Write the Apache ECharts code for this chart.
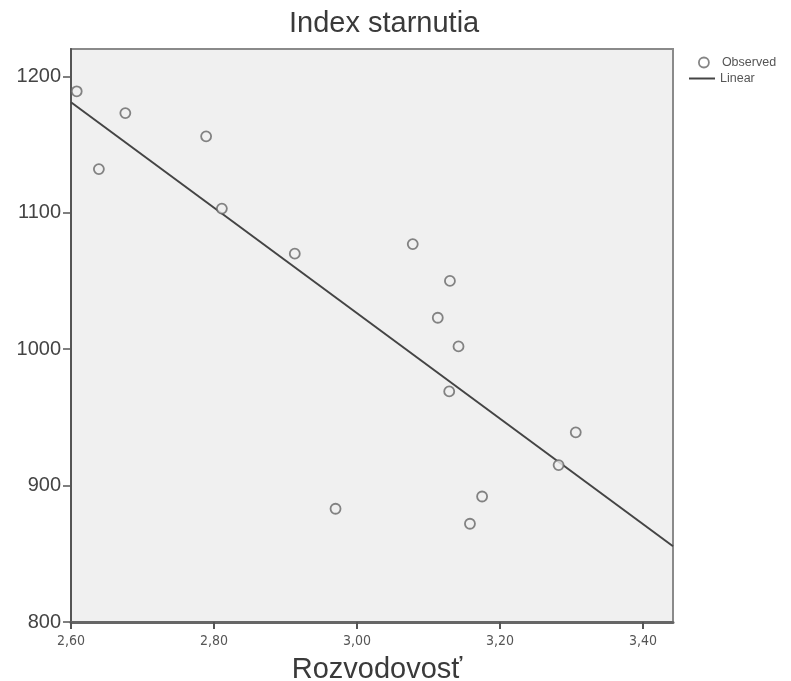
<!DOCTYPE html>
<html>
<head>
<meta charset="UTF-8"/>
<script src="https://cdn.jsdelivr.net/npm/echarts@6/dist/echarts.min.js"></script>
<style>
  html, body { margin: 0; padding: 0; background: #ffffff; }
  #c { width: 791px; height: 681px; }
</style>
</head>
<body>
<div id="c"></div>
<script>
// observed points
const rozvodovost = [2.608, 2.639, 2.676, 2.789, 2.811, 2.913, 2.970, 3.078,
                     3.130, 3.113, 3.142, 3.129, 3.306, 3.282, 3.175, 3.158];
const indexStarnutia = [1189, 1132, 1173, 1156, 1103, 1070, 883, 1077,
                        1050, 1023, 1002, 969, 939, 915, 892, 872];

// linear fit, ends of the drawn line
const fitX = [2.60, 3.442];
const fitY = [1181, 855.5];

const xTicks = [2.6, 2.8, 3.0, 3.2, 3.4];
const yTicks = [800, 900, 1000, 1100, 1200];

const observed = rozvodovost.map((x, i) => [x, indexStarnutia[i]]);
const linear = fitX.map((x, i) => [x, fitY[i]]);

const chart = echarts.init(document.getElementById("c"), null, { renderer: "canvas" });

const narrowFont = "'Liberation Sans Narrow', 'DejaVu Sans Condensed', 'Liberation Sans', sans-serif";
const plainFont = "'Liberation Sans', sans-serif";

chart.setOption({
    animation: false,
    backgroundColor: "#ffffff",
    title: {
        text: "Index starnutia",
        left: 289,
        top: 9,
        padding: 0,
        textStyle: { fontFamily: plainFont, fontSize: 29, fontWeight: "normal", color: "#3a3a3a" }
    },
    legend: [
        {
            data: [{ name: "Observed", icon: "circle" }],
            left: 698, top: 56, padding: 0, orient: "vertical",
            itemWidth: 10, itemHeight: 10, textGap: 5,
            itemStyle: { color: "transparent", borderColor: "#666", borderWidth: 1.8 },
            textStyle: { fontFamily: plainFont, fontSize: 12.5, color: "#555", padding: [0, 0, 0, 8] }
        },
        {
            data: [{ name: "Linear", icon: "rect" }],
            left: 689, top: 72, padding: 0, orient: "vertical",
            itemWidth: 26, itemHeight: 2, textGap: 5,
            itemStyle: { color: "#444", borderWidth: 0 },
            lineStyle: { width: 0 },
            textStyle: { fontFamily: plainFont, fontSize: 12.5, color: "#555" }
        }
    ],
    grid: {
        left: 71, right: 118, top: 49, bottom: 59,
        outerBoundsMode: "none",
        show: true, backgroundColor: "#f0f0f0", borderColor: "#8a8a8a", borderWidth: 2
    },
    xAxis: {
        type: "value",
        min: 2.6, max: 3.442,
        name: "Rozvodovosť",
        nameLocation: "middle",
        nameGap: 33,
        nameTextStyle: { fontFamily: plainFont, fontSize: 29, color: "#3a3a3a", padding: [0, 0, 0, 10] },
        axisLine: { lineStyle: { color: "#666", width: 3 } },
        axisTick: { show: true, length: 7, customValues: xTicks, lineStyle: { color: "#555", width: 2 } },
        axisLabel: {
            customValues: xTicks, margin: 12,
            fontFamily: narrowFont, fontSize: 14, color: "#555",
            formatter: v => v.toFixed(2).replace(".", ",")
        },
        splitLine: { show: false }
    },
    yAxis: {
        type: "value",
        min: 800, max: 1220,
        axisLine: { show: true, lineStyle: { color: "#555", width: 2 } },
        axisTick: { show: true, length: 8, customValues: yTicks, lineStyle: { color: "#555", width: 1.5 } },
        axisLabel: {
            customValues: yTicks, margin: 10,
            fontFamily: plainFont, fontSize: 20, color: "#444",
            formatter: v => String(v)
        },
        splitLine: { show: false }
    },
    series: [
        {
            name: "Observed",
            type: "scatter",
            data: observed,
            symbol: "circle",
            symbolSize: 10,
            itemStyle: { color: "#f0f0f0", borderColor: "#666", borderWidth: 1.8 },
            z: 3
        },
        {
            name: "Linear",
            type: "line",
            data: linear,
            showSymbol: false,
            symbol: "none",
            lineStyle: { color: "#444", width: 2 },
            itemStyle: { color: "#444" },
            z: 2
        }
    ]
});
</script>
</body>
</html>
